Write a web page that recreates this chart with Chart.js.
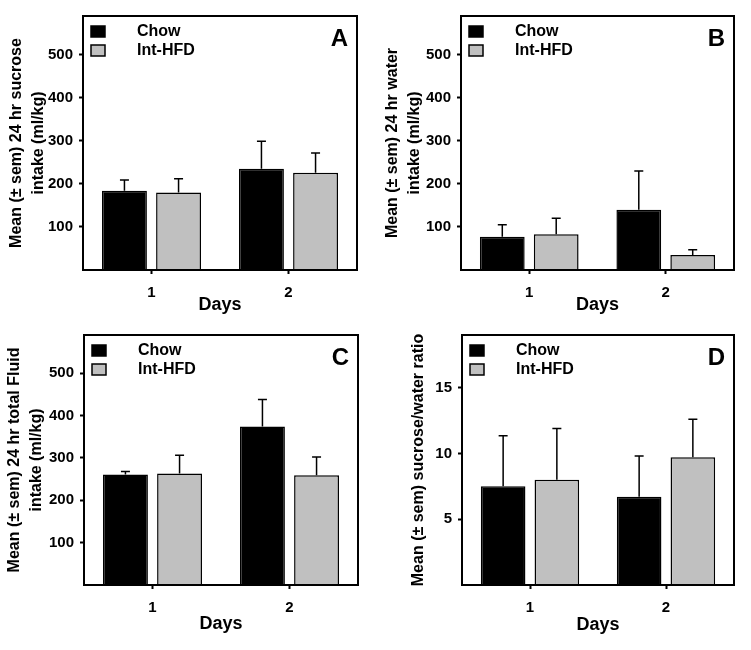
<!DOCTYPE html>
<html>
<head>
<meta charset="utf-8">
<script src="https://cdn.jsdelivr.net/npm/chart.js@4/dist/chart.umd.min.js"></script>
<style>
  body { margin: 0; background: #fff; }
  .panel { position: absolute; }
</style>
</head>
<body>
<canvas id="pA" class="panel" width="375" height="320" style="left:0;top:0"></canvas>
<canvas id="pB" class="panel" width="376" height="320" style="left:375px;top:0"></canvas>
<canvas id="pC" class="panel" width="375" height="330" style="left:0;top:320px"></canvas>
<canvas id="pD" class="panel" width="376" height="330" style="left:375px;top:320px"></canvas>
<script>
// data
const days = ['1', '2'];
const groupNames = ['Chow', 'Int-HFD'];

const sucroseChow = [184, 235];
const sucroseChowSem = [25, 64];
const sucroseHfd = [180, 226];
const sucroseHfdSem = [32, 46];

const waterChow = [77, 140];
const waterChowSem = [28, 90];
const waterHfd = [83, 35];
const waterHfdSem = [37, 12];

const fluidChow = [261, 374];
const fluidChowSem = [7, 64];
const fluidHfd = [263, 259];
const fluidHfdSem = [43, 43];

const ratioChow = [7.5, 6.7];
const ratioChowSem = [3.85, 3.1];
const ratioHfd = [8.0, 9.7];
const ratioHfdSem = [3.9, 2.9];

const mlTicks = [100, 200, 300, 400, 500];
const ratioTicks = [5, 10, 15];

const FONT = "'Liberation Sans', Arial, sans-serif";
const GRAY = '#c0c0c0';

// error bars (upward only), box, legend and panel letter
const decor = {
  id: 'decor',
  afterDatasetsDraw(chart) {
    const ctx = chart.ctx;
    const y = chart.scales.y;
    ctx.save();
    ctx.strokeStyle = '#000';
    ctx.lineWidth = 1.5;
    chart.data.datasets.forEach((ds, i) => {
      chart.getDatasetMeta(i).data.forEach((bar, j) => {
        const top = y.getPixelForValue(ds.data[j] + ds.sem[j]);
        ctx.beginPath();
        ctx.moveTo(bar.x, bar.y);
        ctx.lineTo(bar.x, top);
        ctx.moveTo(bar.x - 4.5, top);
        ctx.lineTo(bar.x + 4.5, top);
        ctx.stroke();
      });
    });
    ctx.restore();
  },
  afterDraw(chart, args, opts) {
    const ctx = chart.ctx;
    const a = chart.chartArea;
    ctx.save();
    ctx.strokeStyle = '#000';
    ctx.lineWidth = 2;
    ctx.strokeRect(a.left, a.top, a.right - a.left, a.bottom - a.top);

    // legend
    ctx.font = 'bold 16px ' + FONT;
    ctx.textBaseline = 'middle';
    ctx.textAlign = 'left';
    chart.data.datasets.forEach((ds, i) => {
      const sy = a.top + 10 + i * 19;
      ctx.fillStyle = ds.backgroundColor;
      ctx.fillRect(a.left + 8, sy, 14, 11);
      ctx.lineWidth = 1.5;
      ctx.strokeRect(a.left + 8, sy, 14, 11);
      ctx.fillStyle = '#000';
      ctx.fillText(ds.label, a.left + 54, sy + 6);
    });

    // panel letter
    ctx.font = 'bold 24px ' + FONT;
    ctx.textAlign = 'right';
    ctx.fillText(opts.letter, a.right - 9, a.top + 23);
    ctx.restore();
  }
};

function makePanel(id, letter, box, yTitle, yMax, yTicks, titlePad, xTitlePad, chow, chowSem, hfd, hfdSem) {
  const cv = document.getElementById(id);
  const W = cv.width, H = cv.height;
  return new Chart(cv, {
    type: 'bar',
    data: {
      labels: days,
      datasets: [
        { label: groupNames[0], data: chow, sem: chowSem, backgroundColor: '#000', borderColor: '#000', borderWidth: 1.5 },
        { label: groupNames[1], data: hfd, sem: hfdSem, backgroundColor: GRAY, borderColor: '#000', borderWidth: 1.5 }
      ]
    },
    options: {
      responsive: false,
      animation: false,
      devicePixelRatio: 1,
      categoryPercentage: 0.79,
      barPercentage: 0.83,
      layout: { padding: { left: 0, bottom: 0, top: box.t, right: W - box.r } },
      plugins: {
        legend: { display: false },
        tooltip: { enabled: false },
        decor: { letter: letter }
      },
      scales: {
        x: {
          afterFit(s) { s.height = H - box.b; },
          border: { display: false },
          grid: { display: true, drawOnChartArea: false, offset: false, tickLength: 4, tickWidth: 2, tickColor: '#000' },
          ticks: { color: '#000', padding: 10, font: { family: FONT, size: 15, weight: 'bold' } },
          title: { display: true, text: 'Days', color: '#000', padding: { top: 0, bottom: xTitlePad }, font: { family: FONT, size: 18, weight: 'bold', lineHeight: 1.2 } }
        },
        y: {
          min: 0,
          max: yMax,
          afterFit(s) { s.width = box.l; },
          afterBuildTicks(s) { s.ticks = yTicks.map(v => ({ value: v })); },
          border: { display: false },
          grid: { display: true, drawOnChartArea: false, tickLength: 4, tickWidth: 2, tickColor: '#000' },
          ticks: { color: '#000', padding: 6, font: { family: FONT, size: 15, weight: 'bold' } },
          title: { display: true, text: yTitle, color: '#000', padding: { top: titlePad, bottom: 0 }, font: { family: FONT, size: 16, weight: 'bold', lineHeight: 1.35 } }
        }
      }
    },
    plugins: [decor]
  });
}

makePanel('pA', 'A', { l: 83, r: 357, t: 16, b: 270 },
  ['Mean (± sem) 24 hr sucrose', 'intake (ml/kg)'], 590, mlTicks, 6, 4,
  sucroseChow, sucroseChowSem, sucroseHfd, sucroseHfdSem);

makePanel('pB', 'B', { l: 86, r: 359, t: 16, b: 270 },
  ['Mean (± sem) 24 hr water', 'intake (ml/kg)'], 590, mlTicks, 7, 4,
  waterChow, waterChowSem, waterHfd, waterHfdSem);

makePanel('pC', 'C', { l: 84, r: 358, t: 12, b: 265 },
  ['Mean (± sem) 24 hr total Fluid', 'intake (ml/kg)'], 590, mlTicks, 4, 15,
  fluidChow, fluidChowSem, fluidHfd, fluidHfdSem);

makePanel('pD', 'D', { l: 87, r: 359, t: 12, b: 265 },
  'Mean (± sem) sucrose/water ratio', 19, ratioTicks, 33, 14,
  ratioChow, ratioChowSem, ratioHfd, ratioHfdSem);
</script>
</body>
</html>
